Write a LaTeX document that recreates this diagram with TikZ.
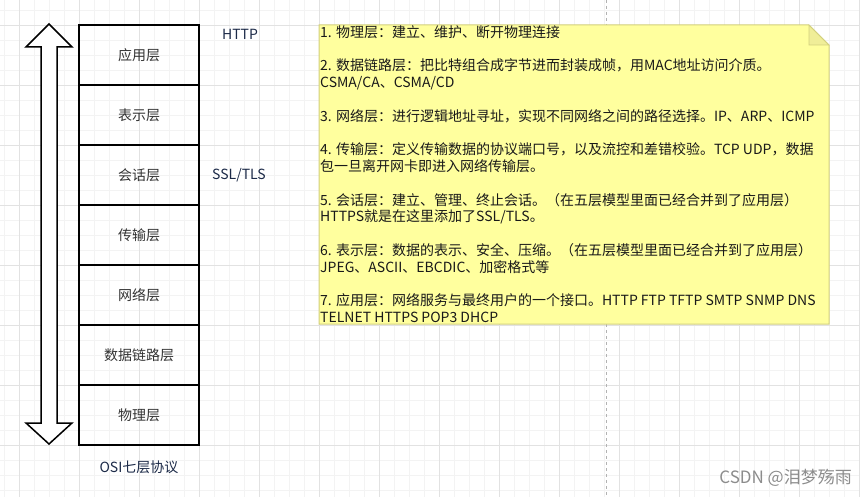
\documentclass[tikz,border=0pt]{standalone}
\usepackage{fontspec}
\setmainfont{Noto Sans CJK SC}

\definecolor{minorgrid}{HTML}{F3F3F3}
\definecolor{majorgrid}{HTML}{E2E2E2}
\definecolor{notefill}{HTML}{FFFF9E}
\definecolor{notedraw}{HTML}{D2CF7C}
\definecolor{foldfill}{HTML}{F0EE98}
\definecolor{laytext}{HTML}{333333}
\definecolor{prototext}{HTML}{1C2A48}
\definecolor{marktext}{HTML}{8C8C8C}

\begin{document}
\begin{tikzpicture}[x=1pt,y=-1pt,
    layer/.style={draw, line width=1.5pt, minimum width=120pt, minimum height=60pt,
        inner sep=0pt, text=laytext, font=\fontsize{14}{17}\selectfont},
    proto/.style={text=prototext, inner sep=0pt, font=\fontsize{14}{17}\selectfont},
    notetext/.style={align=left, inner sep=0pt, text=black!90, font=\fontsize{14}{16.8}\selectfont},
    watermark/.style={text=marktext, inner sep=0pt, font=\fontsize{17}{20}\selectfont}]
    \useasboundingbox (0,0) rectangle (860,497);
    \fill[white] (0,0) rectangle (860,497);

    % background grid
    \foreach \x in {4,19,...,859}
        \draw[minorgrid, line width=0.8pt] (\x,0) -- (\x,497);
    \foreach \y in {10,25,...,490}
        \draw[minorgrid, line width=0.8pt] (0,\y) -- (860,\y);
    \foreach \x in {19,79,...,859}
        \draw[majorgrid, line width=0.8pt] (\x,0) -- (\x,497);
    \foreach \y in {25,85,...,445}
        \draw[majorgrid, line width=0.8pt] (0,\y) -- (860,\y);

    % page break
    \draw[gray!60, dashed, line width=0.8pt] (606,0) -- (606,497);

    % up and down arrow
    \draw[line width=1.5pt, fill=white, line join=miter]
        (49,24) -- (72,47) -- (57,47) -- (57,423) -- (72,423) -- (49,444)
        -- (26,423) -- (41,423) -- (41,47) -- (26,47) -- cycle;

    % the seven layers
    \foreach \name [count=\i] in {应用层,表示层,会话层,传输层,网络层,数据链路层,物理层}
        \node[layer] (l\i) at (139,{55+60*(\i-1)}) {\name};

    \node[proto] (osi) at (139,467) {OSI七层协议};

    % protocols beside the layers
    \node[proto] (http) at (240,34) {HTTP};
    \node[proto] (ssl) at (239,175) {SSL/TLS};

    % note
    \fill[notefill] (319,25) -- (809,25) -- (829,45) -- (829,324) -- (319,324) -- cycle;
    \filldraw[fill=foldfill, draw=notedraw, line width=0.6pt] (809,25) -- (829,45) -- (809,45) -- cycle;
    \draw[notedraw, line width=1pt] (319,25) -- (809,25) -- (829,45) -- (829,324) -- (319,324) -- cycle;

    \node[notetext, anchor=north west] (notes) at (320,25) {%
        1. 物理层：建立、维护、断开物理连接\\[16.8pt]
        2. 数据链路层：把比特组合成字节进而封装成帧，用MAC地址访问介质。\\
        CSMA/CA、CSMA/CD\\[16.8pt]
        3. 网络层：进行逻辑地址寻址，实现不同网络之间的路径选择。IP、ARP、ICMP\\[16.8pt]
        4. 传输层：定义传输数据的协议端口号，以及流控和差错校验。TCP UDP，数据\\
        包一旦离开网卡即进入网络传输层。\\[16.8pt]
        5. 会话层：建立、管理、终止会话。（在五层模型里面已经合并到了应用层）\\
        HTTPS就是在这里添加了SSL/TLS。\\[16.8pt]
        6. 表示层：数据的表示、安全、压缩。（在五层模型里面已经合并到了应用层）\\
        JPEG、ASCII、EBCDIC、加密格式等\\[16.8pt]
        7. 应用层：网络服务与最终用户的一个接口。HTTP FTP TFTP SMTP SNMP DNS\\
        TELNET HTTPS POP3 DHCP};

    % watermark
    \node[watermark, anchor=east] (mark) at (852,478) {CSDN @泪梦殇雨};
\end{tikzpicture}
\end{document}
